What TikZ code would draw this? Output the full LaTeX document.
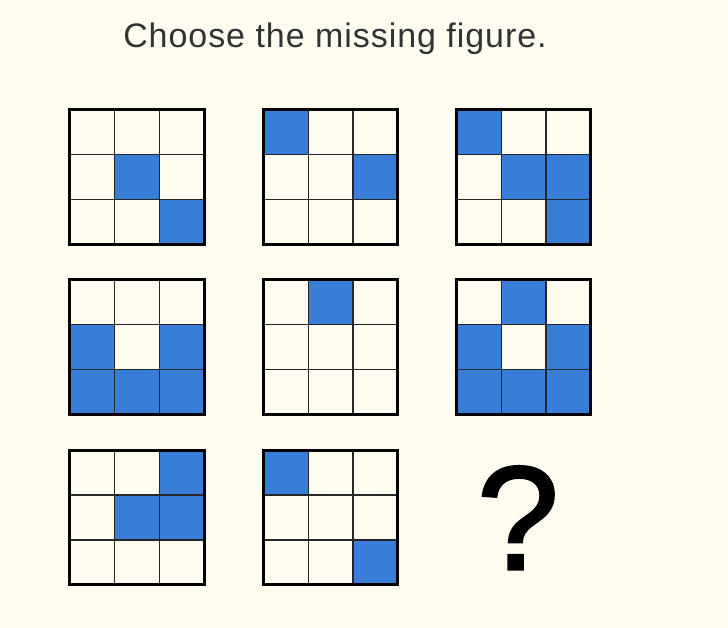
\documentclass[tikz,border=0pt]{standalone}
\usepackage{fontspec}
\setmainfont{Liberation Sans}
\usepackage{xcolor}
\definecolor{cream}{RGB}{255,253,240}
\definecolor{tileblue}{RGB}{56,126,216}
\definecolor{ink}{RGB}{51,51,51}
\usepackage{tikz}
\usetikzlibrary{positioning,calc}
\tikzset{
  frame/.style={draw=black, line width=3pt, minimum size=134.4pt,
                inner sep=0pt, outer sep=0pt, fill=cream},
  cellline/.style={draw=black!85, line width=1.3pt},
  tile/.style={fill=tileblue},
  title/.style={font=\fontsize{34}{38}\selectfont\addfontfeature{LetterSpace=2.8}, text=ink},
}
% #1 node name, #2 placement, #3 blue cells as row/col
\newcommand{\puzzle}[3]{%
  \node[frame, #2] (#1) {};
  \foreach \r/\c in {#3}
    \fill[tile] ($(#1.north west)+(\c*44.8,\r*44.8)$) rectangle ++(44.8,44.8);
  \foreach \k in {1,2} {
    \draw[cellline] ($(#1.north west)+(\k*44.8,0)$) -- ++(0,134.4);
    \draw[cellline] ($(#1.north west)+(0,\k*44.8)$) -- ++(134.4,0);
  }
  \draw[black, line width=3pt] (#1.north west) rectangle (#1.south east);
}

\begin{document}
\begin{tikzpicture}[x=1pt, y=-1pt]
\fill[cream] (0,0) rectangle (728,628);
\useasboundingbox (0,0) rectangle (728,628);

\node[title, anchor=base] (head) at (335,47.3) {Choose the missing figure.};

% first row
\puzzle{g11}{at={(137,176.9)}}{1/1, 2/2}
\puzzle{g12}{right=59.2pt of g11}{0/0, 1/2}
\puzzle{g13}{right=58.7pt of g12}{0/0, 1/1, 1/2, 2/2}
% second row
\puzzle{g21}{below=35.7pt of g11}{1/0, 1/2, 2/0, 2/1, 2/2}
\puzzle{g22}{below=35.7pt of g12}{0/1}
\puzzle{g23}{below=35.7pt of g13}{0/1, 1/0, 1/2, 2/0, 2/1, 2/2}
% third row
\puzzle{g31}{below=36.1pt of g21}{0/2, 1/1, 1/2}
\puzzle{g32}{below=36.1pt of g22}{0/0, 2/2}

\node[font=\fontsize{148}{148}\selectfont\addfontfeature{FakeBold=1.6},
      anchor=base, inner sep=0pt] (qmark) at (518,569.5) {?};
\end{tikzpicture}
\end{document}
